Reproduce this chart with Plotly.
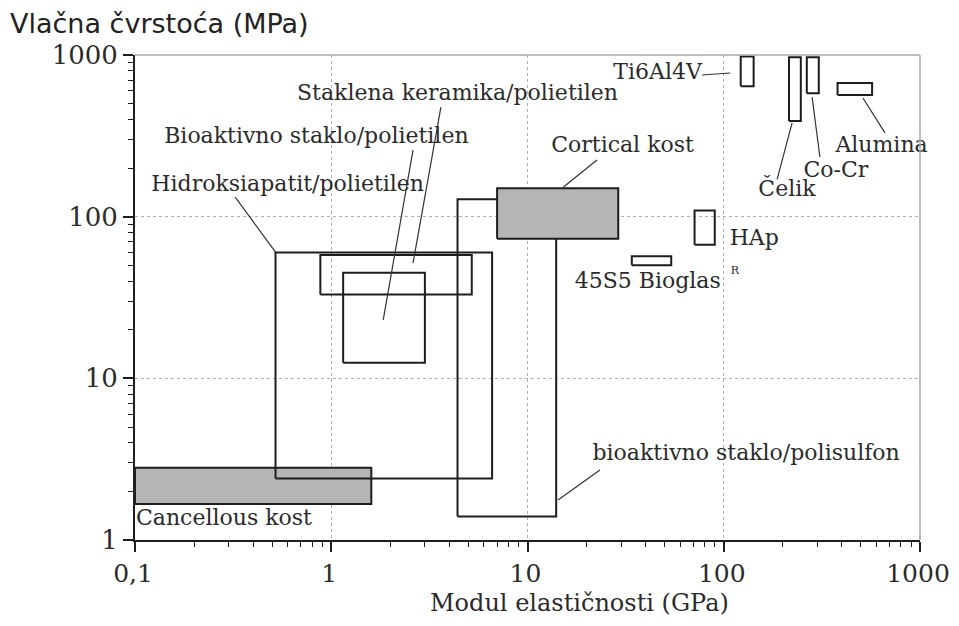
import plotly.graph_objects as go

# ---------------- data ----------------
materials = ["Cancellous kost", "Hidroksiapatit/polietilen", "Staklena keramika/polietilen",
             "Bioaktivno staklo/polietilen", "bioaktivno staklo/polisulfon", "Cortical kost",
             "45S5 Bioglas", "HAp", "Ti6Al4V", "Čelik", "Co-Cr", "Alumina"]
e_min = [0.1, 0.52, 0.88, 1.15, 4.4, 7.0, 34, 71, 122, 215, 265, 380]     # GPa
e_max = [1.6, 6.6, 5.2, 3.0, 14.0, 29.0, 54, 90, 142, 247, 305, 570]
s_min = [1.67, 2.4, 33, 12.5, 1.4, 73, 50, 67, 640, 390, 580, 565]        # MPa
s_max = [2.8, 60, 58, 45, 128, 150, 57, 109, 980, 970, 970, 670]
filled = ["Cancellous kost", "Cortical kost"]

label_text = ["Staklena keramika/polietilen", "Bioaktivno staklo/polietilen",
              "Hidroksiapatit/polietilen", "Cortical kost", "Ti6Al4V", "Čelik", "Co-Cr",
              "Alumina", "HAp", "45S5 Bioglas", "bioaktivno staklo/polisulfon", "Cancellous kost"]
label_x = [4.4, 0.84, 0.60, 30.5, 46, 210, 373, 637, 143, 41, 130, 0.284]
label_y = [566, 311, 157, 270, 774, 145, 189, 270, 72, 39, 3.36, 1.33]

# leader lines: (x0, y0) -> (x1, y1)
lead_x0 = [3.62, 2.61, 0.324, 22.6, 77.5, 187, 309, 663, 23.4]
lead_y0 = [476, 258, 132, 224, 752, 170, 234, 330, 2.71]
lead_x1 = [2.61, 1.84, 0.52, 15.2, 108, 223, 282, 512, 14.3]
lead_y1 = [51.6, 23, 60.4, 152, 774, 380, 549, 542, 1.77]

x_ticks = [0.1, 1, 10, 100, 1000]
x_ticktext = ["0,1", "1", "10", "100", "1000"]
y_ticks = [1, 10, 100, 1000]
y_ticktext = ["1", "10", "100", "1000"]

# ---------------- figure ----------------
SERIF = "DejaVu Serif"
TXT = "#2b2b2b"
fig = go.Figure()

for i, name in enumerate(materials):
    xs = [e_min[i], e_max[i], e_max[i], e_min[i], e_min[i]]
    ys = [s_min[i], s_min[i], s_max[i], s_max[i], s_min[i]]
    is_f = name in filled
    fig.add_trace(go.Scatter(
        x=xs, y=ys, mode="lines",
        fill="toself" if is_f else "none",
        fillcolor="#b5b5b5",
        line=dict(color="#1e1e1e", width=2),
        hoverinfo="skip", showlegend=False))

for i in range(len(lead_x0)):
    fig.add_trace(go.Scatter(
        x=[lead_x0[i], lead_x1[i]], y=[lead_y0[i], lead_y1[i]], mode="lines",
        line=dict(color="#333333", width=1.2),
        hoverinfo="skip", showlegend=False))

fig.add_trace(go.Scatter(
    x=label_x, y=label_y, mode="text", text=label_text,
    textfont=dict(family=SERIF, size=22, color=TXT),
    textposition="middle center", cliponaxis=False,
    hoverinfo="skip", showlegend=False))

# superscript R next to Bioglas
fig.add_trace(go.Scatter(
    x=[114], y=[46], mode="text", text=["R"],
    textfont=dict(family=SERIF, size=11, color=TXT),
    cliponaxis=False, hoverinfo="skip", showlegend=False))

axis_common = dict(
    type="log", showline=True, linecolor="#1e1e1e", linewidth=2,
    ticks="outside", ticklen=10, tickwidth=1.5, tickcolor="#1e1e1e",
    showgrid=True, gridcolor="#b0b0b0", griddash="dot", gridwidth=1,
    zeroline=False, automargin=False,
    minor=dict(ticks="outside", ticklen=5, tickwidth=1.2, tickcolor="#1e1e1e",
               dtick="D1", showgrid=False),
)

fig.update_xaxes(**axis_common, range=[-1, 3], tickvals=x_ticks, ticktext=x_ticktext,
                 tickfont=dict(family=SERIF, size=25, color=TXT), ticklabelshift=-2)
fig.update_yaxes(**axis_common, range=[0, 3], tickvals=y_ticks, ticktext=y_ticktext,
                 tickfont=dict(family=SERIF, size=26, color=TXT))

# x-axis title (offset right of centre as in the reference)
fig.add_annotation(text="Modul elastičnosti (GPa)", xref="paper", yref="paper",
                   x=0.566, y=-63 / 485, xanchor="center", yanchor="middle",
                   showarrow=False, font=dict(family=SERIF, size=24, color=TXT))

# gray top / right frame
fig.add_shape(type="line", xref="paper", yref="paper", x0=0, x1=1, y0=1, y1=1,
              line=dict(color="#aaaaaa", width=1.5))
fig.add_shape(type="line", xref="paper", yref="paper", x0=1, x1=1, y0=0, y1=1,
              line=dict(color="#aaaaaa", width=1.5))

fig.update_layout(
    width=943, height=610,
    margin=dict(l=127, r=31, t=47, b=78, autoexpand=False),
    paper_bgcolor="white", plot_bgcolor="white",
    title=dict(text="Vlačna čvrstoća (MPa)", x=2 / 943, xanchor="left",
               y=1 - 16 / 610, yanchor="middle", yref="container",
               font=dict(family="DejaVu Sans", size=27, color="#222222")),
)

fig.write_html("out.html")
